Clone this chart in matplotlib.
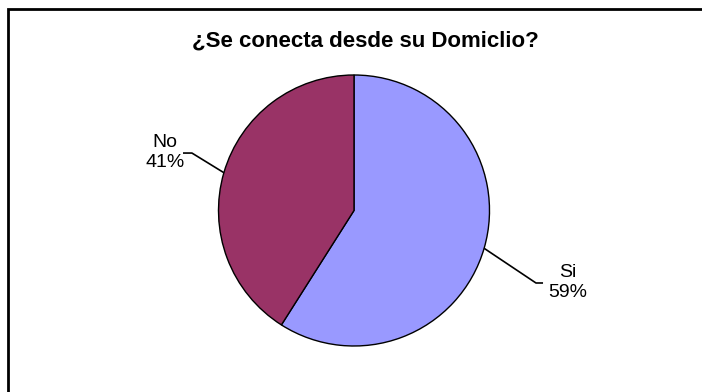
import numpy as np
import matplotlib
matplotlib.use("Agg")
import matplotlib.pyplot as plt
from matplotlib.patches import Rectangle

plt.rcParams['font.family'] = ['Liberation Sans', 'DejaVu Sans']

# survey answers
labels = ["Si", "No"]
shares = [59, 41]
colors = ["#9999FF", "#993366"]

# leader line elbows and label centres (pie radius units)
elbows = [(1.343, -0.535), (-1.196, 0.424)]
ends = [(1.395, -0.535), (-1.262, 0.424)]
text_pos = [(1.58, -0.53), (-1.395, 0.428)]

W, H = 702, 392
fig = plt.figure(figsize=(W / 100, H / 100), dpi=100)

# outer frame of the chart area
fig.patches.append(Rectangle((8 / W, -0.1), 1.2, 1.1 - 9 / H, transform=fig.transFigure,
                             fill=False, edgecolor="black", linewidth=2))

cx, cy, r = 354, 210.5, 135.5
ax = fig.add_axes([(cx - r) / W, (H - cy - r) / H, 2 * r / W, 2 * r / H])
wedges, _ = ax.pie(shares, colors=colors, startangle=90, counterclock=False,
                   wedgeprops=dict(edgecolor="black", linewidth=1))
ax.set_xlim(-1, 1)
ax.set_ylim(-1, 1)
ax.set_aspect("equal")
ax.axis("off")

for w, lab, val, el, en, tp in zip(wedges, labels, shares, elbows, ends, text_pos):
    mid = np.deg2rad((w.theta1 + w.theta2) / 2)
    sx, sy = np.cos(mid), np.sin(mid)
    ax.plot([sx, el[0], en[0]], [sy, el[1], en[1]], color="black", lw=1.2,
            clip_on=False, solid_capstyle="butt")
    ax.text(tp[0], tp[1], f"{lab}\n{val}%", ha="center", va="center",
            fontsize=14, linespacing=1.25)

fig.text(365 / W, 1 - 41 / H, "¿Se conecta desde su Domiclio?", ha="center", va="center",
         fontsize=16, fontweight="bold")

fig.savefig("out.png", dpi=100)
